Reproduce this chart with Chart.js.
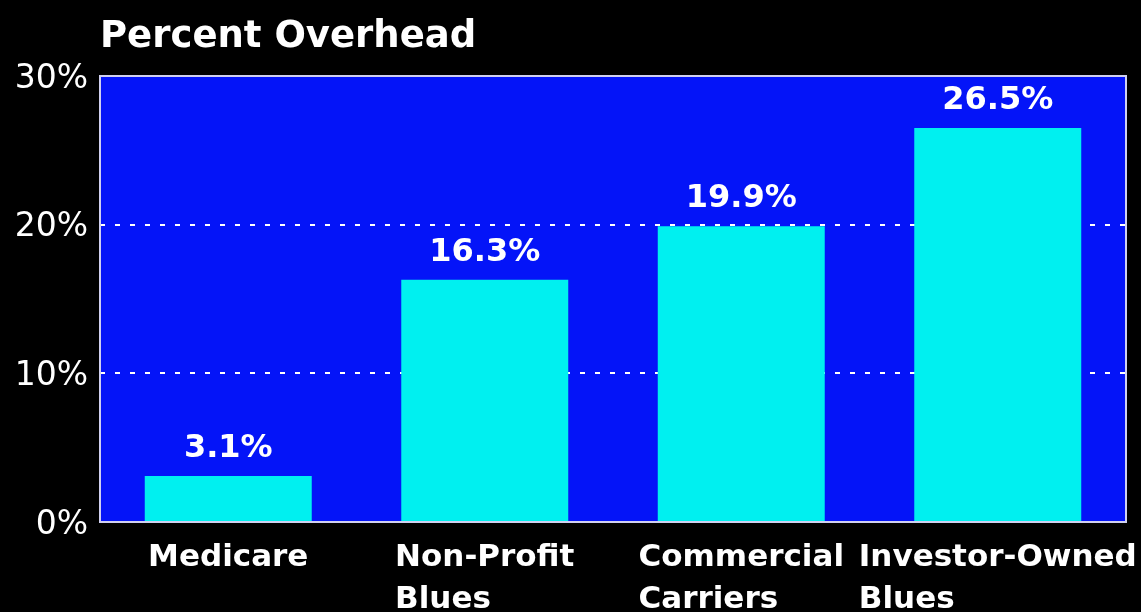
<!DOCTYPE html>
<html>
<head>
<meta charset="utf-8">
<script src="https://cdn.jsdelivr.net/npm/chart.js@4"></script>
<style>
  html, body { margin: 0; padding: 0; background: #000; }
  #wrap { width: 1141px; height: 612px; position: relative; }
</style>
</head>
<body>
<div id="wrap"><canvas id="c"></canvas></div>
<script>
const titleText = "Percent Overhead";
const categories = [["Medicare"], ["Non-Profit", "Blues"], ["Commercial", "Carriers"], ["Investor-Owned", "Blues"]];
const overheadPct = [3.1, 16.3, 19.9, 26.5];
const yTickValues = [0, 10, 20, 30];

const PLOT_BLUE = '#0414F8';
const BAR_CYAN = '#00F0F0';

const customDraw = {
  id: 'customDraw',
  beforeDraw(chart) {
    const ctx = chart.ctx, a = chart.chartArea;
    ctx.save();
    ctx.fillStyle = '#000';
    ctx.fillRect(0, 0, chart.width, chart.height);
    ctx.fillStyle = PLOT_BLUE;
    ctx.fillRect(a.left, a.top, a.right - a.left, a.bottom - a.top);
    ctx.restore();
  },
  afterDatasetsDraw(chart) {
    const ctx = chart.ctx;
    const meta = chart.getDatasetMeta(0);
    ctx.save();
    ctx.fillStyle = '#fff';
    ctx.font = 'bold 32px "DejaVu Sans"';
    ctx.textAlign = 'center';
    ctx.textBaseline = 'middle';
    meta.data.forEach((bar, i) => {
      ctx.fillText(overheadPct[i].toFixed(1) + '%', bar.x, bar.y - 27);
    });
    ctx.restore();
  },
  afterDraw(chart) {
    const ctx = chart.ctx, a = chart.chartArea;
    const xs = chart.scales.x;
    ctx.save();
    // plot border
    ctx.strokeStyle = '#D0D0F0';
    ctx.lineWidth = 2;
    ctx.strokeRect(a.left, a.top, a.right - a.left, a.bottom - a.top);
    // title
    ctx.fillStyle = '#fff';
    ctx.font = 'bold 37px "DejaVu Sans"';
    ctx.textAlign = 'left';
    ctx.textBaseline = 'alphabetic';
    ctx.fillText(titleText, a.left, 47);
    // category labels: longest line centred, lines left-aligned
    ctx.font = 'bold 31px "DejaVu Sans"';
    categories.forEach((lines, i) => {
      const cx = xs.getPixelForValue(i);
      const w = Math.max(...lines.map(l => ctx.measureText(l).width));
      const lx = cx - w / 2;
      lines.forEach((l, j) => ctx.fillText(l, lx, a.bottom + 44 + j * 42));
    });
    ctx.restore();
  }
};

new Chart(document.getElementById('c'), {
  type: 'bar',
  data: {
    labels: categories,
    datasets: [{
      data: overheadPct,
      backgroundColor: BAR_CYAN,
      borderWidth: 0,
      barPercentage: 0.651,
      categoryPercentage: 1.0
    }]
  },
  options: {
    responsive: true,
    maintainAspectRatio: false,
    animation: false,
    devicePixelRatio: 1,
    layout: { padding: { top: 76, right: 15, bottom: 0, left: 0 } },
    plugins: {
      legend: { display: false },
      title: { display: false },
      tooltip: { enabled: false }
    },
    scales: {
      x: {
        grid: { display: false },
        border: { display: false },
        ticks: { display: false },
        afterFit(scale) { scale.height = 90; }
      },
      y: {
        min: 0,
        max: 30,
        afterBuildTicks(scale) { scale.ticks = yTickValues.map(v => ({ value: v })); },
        afterFit(scale) { scale.width = 100; },
        border: { display: false, dash: [5, 10] },
        grid: {
          color: '#ffffff',
          lineWidth: 2,
          drawTicks: false
        },
        ticks: {
          color: '#ffffff',
          font: { family: 'DejaVu Sans', size: 33 },
          padding: 12,
          labelOffset: 3,
          callback: v => v + '%'
        }
      }
    }
  },
  plugins: [customDraw]
});
</script>
</body>
</html>
